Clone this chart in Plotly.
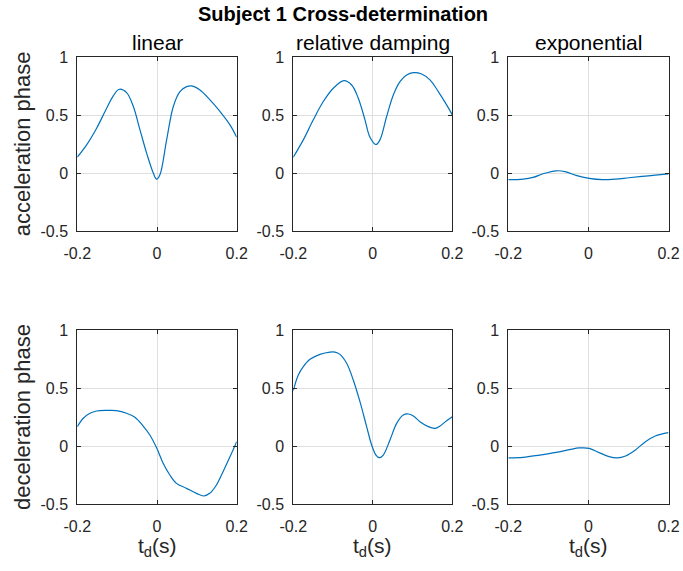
import plotly.graph_objects as go

# ---- data ----
lin_acc_x = [-0.2, -0.1766, -0.1515, -0.1264, -0.1097, -0.0946, -0.0762, -0.0594, -0.0427, -0.026, -0.0093, -0.0009, 0.0074, 0.0242, 0.0409, 0.0576, 0.0744, 0.0869, 0.1078, 0.1329, 0.158, 0.1831, 0.2]
lin_acc_y = [0.138, 0.244, 0.388, 0.560, 0.667, 0.724, 0.695, 0.575, 0.374, 0.172, 0.0, -0.052, -0.014, 0.287, 0.575, 0.704, 0.747, 0.753, 0.718, 0.632, 0.532, 0.417, 0.310]

rd_acc_x = [-0.2, -0.1748, -0.1497, -0.1245, -0.0994, -0.0725, -0.0532, -0.0365, -0.0197, -0.0071, 0.008, 0.018, 0.0348, 0.0516, 0.0684, 0.0851, 0.1019, 0.1229, 0.1438, 0.1648, 0.1857, 0.2]
rd_acc_y = [0.138, 0.287, 0.460, 0.618, 0.733, 0.799, 0.761, 0.647, 0.460, 0.310, 0.247, 0.287, 0.489, 0.675, 0.790, 0.848, 0.868, 0.856, 0.805, 0.704, 0.589, 0.503]

exp_acc_x = [-0.2, -0.1629, -0.1381, -0.1134, -0.0804, -0.0557, -0.0309, 0.0021, 0.0351, 0.068, 0.101, 0.134, 0.167, 0.2]
exp_acc_y = [-0.057, -0.052, -0.037, -0.006, 0.020, 0.011, -0.020, -0.046, -0.057, -0.052, -0.040, -0.029, -0.017, -0.006]

lin_dec_x = [-0.2, -0.185, -0.1683, -0.1516, -0.1265, -0.1015, -0.0764, -0.0555, -0.0347, -0.018, -0.0004, 0.0154, 0.0322, 0.0489, 0.0739, 0.099, 0.1173, 0.1324, 0.1491, 0.1658, 0.1825, 0.2]
lin_dec_y = [0.167, 0.239, 0.282, 0.302, 0.307, 0.305, 0.282, 0.247, 0.172, 0.095, -0.020, -0.149, -0.250, -0.322, -0.365, -0.408, -0.431, -0.408, -0.336, -0.221, -0.098, 0.037]

rd_dec_x = [-0.2, -0.1874, -0.1748, -0.1581, -0.1329, -0.1078, -0.0952, -0.0826, -0.0658, -0.0491, -0.0323, -0.0155, -0.0029, 0.008, 0.0164, 0.0264, 0.0432, 0.06, 0.0767, 0.0893, 0.1019, 0.1187, 0.1396, 0.1564, 0.169, 0.1857, 0.2]
rd_dec_y = [0.477, 0.612, 0.684, 0.747, 0.790, 0.810, 0.810, 0.790, 0.713, 0.569, 0.382, 0.167, 0.009, -0.078, -0.101, -0.078, 0.052, 0.195, 0.267, 0.276, 0.259, 0.210, 0.167, 0.152, 0.172, 0.218, 0.253]

exp_dec_x = [-0.2, -0.1629, -0.1216, -0.0804, -0.0474, -0.0227, 0.0021, 0.0268, 0.0515, 0.0722, 0.0928, 0.1175, 0.1423, 0.167, 0.2]
exp_dec_y = [-0.103, -0.098, -0.078, -0.055, -0.032, -0.017, -0.020, -0.057, -0.092, -0.103, -0.086, -0.034, 0.037, 0.086, 0.115]

model_titles = ["linear", "relative damping", "exponential"]
row_labels = ["acceleration phase", "deceleration phase"]
x_ticks = [-0.2, 0, 0.2]
x_ticktext = ["-0.2", "0", "0.2"]
y_ticks = [-0.5, 0, 0.5, 1]
y_ticktext = ["-0.5", "0", "0.5", "1"]
main_title = "<b>Subject 1 Cross-determination</b>"
x_label = "t<sub>d</sub>(s)"

series = [(lin_acc_x, lin_acc_y), (rd_acc_x, rd_acc_y), (exp_acc_x, exp_acc_y),
          (lin_dec_x, lin_dec_y), (rd_dec_x, rd_dec_y), (exp_dec_x, exp_dec_y)]

# ---- layout geometry (pixels) ----
W, H = 683, 571
col_px = [(77.3, 236.7), (293.3, 452.3), (508.3, 668.5)]
row_px = [(57.3, 231.0), (330.0, 504.0)]

FONT = "Liberation Sans, Arial, Helvetica, sans-serif"
AX = "#262626"
LINE = "#0072BD"

fig = go.Figure()
layout = dict(
    width=W, height=H,
    margin=dict(l=0, r=0, t=0, b=0, autoexpand=False),
    paper_bgcolor="white", plot_bgcolor="white",
    showlegend=False,
    font=dict(family=FONT, color=AX),
)

annotations = []
for i, (xs, ys) in enumerate(series):
    r, c = divmod(i, 3)
    n = i + 1
    sfx = "" if n == 1 else str(n)
    fig.add_trace(go.Scatter(x=xs, y=ys, mode="lines",
                             line=dict(color=LINE, width=1.2, shape="spline", smoothing=1.0),
                             xaxis="x" + sfx, yaxis="y" + sfx, cliponaxis=True))
    x0, x1 = col_px[c]
    y0, y1 = row_px[r]
    common = dict(showgrid=True, gridcolor="#dfdfdf", gridwidth=1, zeroline=False,
                  showline=True, linecolor=AX, linewidth=1, mirror="ticks",
                  ticks="inside", ticklen=4, tickcolor=AX, tickwidth=1, automargin=False,
                  tickfont=dict(family=FONT, size=16, color=AX), fixedrange=True)
    layout["xaxis" + sfx] = dict(common, domain=[x0 / W, x1 / W], range=[-0.2, 0.2],
                                 tickvals=x_ticks, ticktext=x_ticktext,
                                 anchor="y" + sfx, ticklabelstandoff=8)
    layout["yaxis" + sfx] = dict(common, domain=[1 - y1 / H, 1 - y0 / H], range=[-0.5, 1],
                                 tickvals=y_ticks, ticktext=y_ticktext,
                                 anchor="x" + sfx, ticklabelstandoff=5)
    if r == 0:
        annotations.append(dict(text=model_titles[c], x=(x0 + x1) / 2 / W, y=1 - y0 / H,
                                xref="paper", yref="paper", xanchor="center", yanchor="bottom",
                                yshift=1, showarrow=False, font=dict(family=FONT, size=21, color="black")))
    if r == 1:
        annotations.append(dict(text=x_label, x=(x0 + x1) / 2 / W, y=1 - 547 / H,
                                xref="paper", yref="paper", xanchor="center", yanchor="middle",
                                showarrow=False, font=dict(family=FONT, size=21, color=AX)))
    if c == 0:
        annotations.append(dict(text=row_labels[r], x=22 / W, y=1 - (y0 + y1) / 2 / H,
                                xref="paper", yref="paper", xanchor="center", yanchor="middle",
                                textangle=-90, showarrow=False,
                                font=dict(family=FONT, size=22, color=AX)))

annotations.append(dict(text=main_title, x=343 / W, y=1 - 14 / H, xref="paper", yref="paper",
                        xanchor="center", yanchor="middle", showarrow=False,
                        font=dict(family=FONT, size=20, color="black")))
layout["annotations"] = annotations
fig.update_layout(**layout)
fig.write_html("out.html", config={"displayModeBar": False, "staticPlot": True},
               post_script="document.body.style.margin='0px';document.body.style.overflow='hidden';")
